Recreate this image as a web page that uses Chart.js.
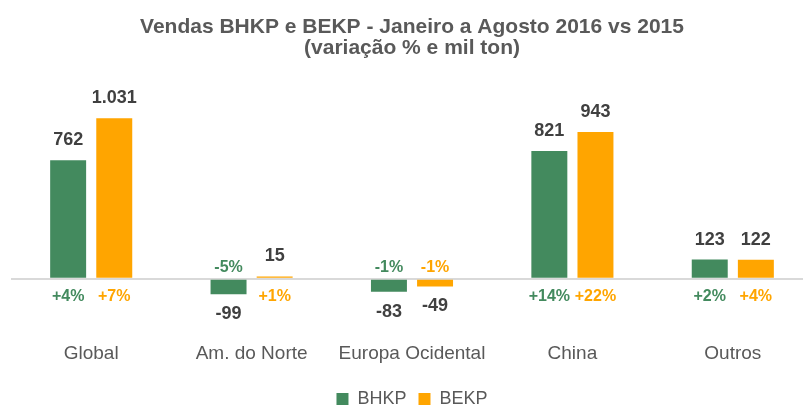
<!DOCTYPE html>
<html>
<head>
<meta charset="utf-8">
<script src="https://cdn.jsdelivr.net/npm/chart.js@4.4.1/dist/chart.umd.min.js"></script>
<style>
    html, body { margin: 0; padding: 0; background: #fff; overflow: hidden; }
    #wrap { width: 803px; height: 407px; overflow: hidden; }
</style>
</head>
<body>
<div id="wrap"><canvas id="salesChart" width="816" height="418"></canvas></div>
<script>
const regions = ['Global', 'Am. do Norte', 'Europa Ocidental', 'China', 'Outros'];
const bhkpSales = [762, -99, -83, 821, 123];
const bekpSales = [1031, 15, -49, 943, 122];
const bhkpChange = ['+4%', '-5%', '-1%', '+14%', '+2%'];
const bekpChange = ['+7%', '+1%', '-1%', '+22%', '+4%'];

const green = '#438A5E';
const orange = '#FFA500';

// thousands with a dot, as in the original
const fmt = v => String(v).replace(/\B(?=(\d{3})+(?!\d))/g, '.');

// value labels on the bars and % change on the other side of the zero line
const barLabels = {
    id: 'barLabels',
    afterDatasetsDraw(chart) {
        const ctx = chart.ctx;
        const zeroY = chart.scales.y.getPixelForValue(0);
        const changes = [bhkpChange, bekpChange];
        const colors = [green, orange];
        ctx.save();
        ctx.textAlign = 'center';
        ctx.textBaseline = 'middle';
        chart.data.datasets.forEach((ds, i) => {
            chart.getDatasetMeta(i).data.forEach((bar, j) => {
                const v = ds.data[j];
                ctx.font = 'bold 18px "Liberation Sans", Arial, sans-serif';
                ctx.fillStyle = '#404040';
                if (v >= 0) {
                    ctx.fillText(fmt(v), bar.x, bar.y - 20);
                } else {
                    ctx.fillText(fmt(v), bar.x, bar.y + 20);
                }
                ctx.font = 'bold 16px "Liberation Sans", Arial, sans-serif';
                ctx.fillStyle = colors[i];
                ctx.fillText(changes[i][j], bar.x, v >= 0 ? zeroY + 18 : zeroY - 11);
            });
        });
        ctx.restore();
    }
};

const ctx = document.getElementById('salesChart').getContext('2d');
new Chart(ctx, {
    type: 'bar',
    data: {
        labels: regions,
        datasets: [{
            label: 'BHKP',
            data: bhkpSales,
            backgroundColor: green,
            categoryPercentage: 0.575,
            barPercentage: 0.78
        }, {
            label: 'BEKP',
            data: bekpSales,
            backgroundColor: orange,
            categoryPercentage: 0.575,
            barPercentage: 0.78
        }]
    },
    options: {
        responsive: false,
        animation: false,
        layout: { padding: { left: 11, right: 3, top: 8, bottom: 0 } },
        plugins: {
            title: {
                display: true,
                text: ['Vendas BHKP e BEKP - Janeiro a Agosto 2016 vs 2015', '(variação % e mil ton)'],
                color: '#595959',
                font: { family: '"Liberation Sans", Arial, sans-serif', size: 21, weight: 'bold', lineHeight: 1.0 },
                padding: { top: 9, bottom: 33 }
            },
            legend: {
                position: 'bottom',
                labels: {
                    color: '#595959',
                    font: { family: '"Liberation Sans", Arial, sans-serif', size: 18 },
                    boxWidth: 12,
                    boxHeight: 12,
                    padding: 12
                }
            },
            tooltip: { enabled: false }
        },
        scales: {
            x: {
                grid: { display: false, drawTicks: false },
                border: { display: false },
                ticks: {
                    color: '#595959',
                    font: { family: '"Liberation Sans", Arial, sans-serif', size: 19 },
                    padding: 1
                },
                afterFit: scale => { scale.height = 37; }
            },
            y: {
                min: -400,
                max: 1200,
                display: true,
                border: { display: false },
                ticks: { display: false, stepSize: 400 },
                grid: {
                    drawTicks: false,
                    color: c => c.tick.value === 0 ? '#D9D9D9' : 'rgba(0,0,0,0)',
                    lineWidth: 2
                }
            }
        }
    },
    plugins: [barLabels]
});
</script>
</body>
</html>
